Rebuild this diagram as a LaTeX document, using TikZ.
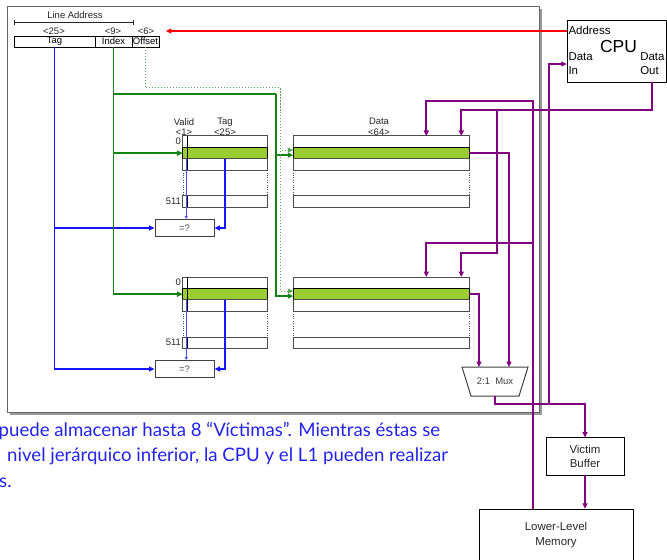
\documentclass[tikz,border=0pt]{standalone}
\usepackage{fontspec}
\setmainfont{Liberation Sans}
\newfontfamily\notefont{Lato}
\usetikzlibrary{arrows.meta,shadows}

\definecolor{wiregreen}{RGB}{20,130,20}
\definecolor{hitgreen}{RGB}{154,205,50}
\definecolor{wireblue}{RGB}{20,20,255}
\definecolor{wirepurple}{RGB}{128,0,128}
\definecolor{noteblue}{RGB}{35,35,235}

\begin{document}
\begin{tikzpicture}[x=1bp, y=-1bp, >={Triangle[length=5.5bp,width=5bp]},
    lbl/.style={font=\fontsize{9.5}{10.5}\selectfont, text=black!85, inner sep=1.5bp},
    field/.style={draw, minimum height=11bp, inner sep=0.5bp, outer sep=0pt,
      font=\fontsize{9.5}{10.5}\selectfont},
    row/.style={draw=black!70, line width=1bp, minimum height=11.4bp,
      inner sep=0pt, outer sep=0pt, anchor=north west},
    hit/.style={fill=hitgreen, draw=black},
    cmp/.style={draw=black!75, line width=1bp, minimum width=59bp, minimum height=17bp,
      inner sep=0pt, font=\fontsize{9.5}{10.5}\selectfont, text=black!70},
    cputext/.style={font=\fontsize{11.5}{14}\selectfont, inner sep=1.5bp},
    box/.style={draw, inner sep=2bp, font=\fontsize{11.5}{14.3}\selectfont, text=black!85},
    mux/.style={minimum width=66bp, minimum height=29bp, inner sep=0pt, outer sep=0pt,
      font=\fontsize{9.5}{10.5}\selectfont, text=black!75},
    greenwire/.style={draw=wiregreen, line width=1.8bp, ->},
    offwire/.style={draw=wiregreen!70, line width=1bp, dotted, ->},
    bluewire/.style={draw=wireblue, line width=1.8bp, ->},
    validwire/.style={draw=wireblue!75, line width=1bp, -{Triangle[length=3bp,width=3bp]}},
    purplewire/.style={draw=wirepurple, line width=2bp, ->},
    redwire/.style={draw=red, line width=1.8bp, ->},
    note/.style={font=\notefont\fontsize{18.7}{22}\selectfont, text=noteblue, inner sep=0pt}]
    \useasboundingbox (0,0) rectangle (667,560);
    \clip (0,0) rectangle (667,560);

    \path[draw=black!60, line width=1bp, fill=white, drop shadow={shadow xshift=2.5bp, shadow yshift=-2.5bp, fill=black!50, opacity=0.8}]
      (7.5,6.5) rectangle (539,412);

    % line address
    \node[lbl] at (75,15.5) {Line Address};
    \draw[{Bar[width=5bp]}-{Bar[width=5bp]}, black!85] (14,22.5) -- (133,22.5);
    \node[lbl] (w25) at (54,31) {<25>};
    \node[lbl] (w9) at (113,31) {<9>};
    \node[lbl] (w6) at (146,31) {<6>};
    \node[field, minimum width=81bp] (tagf) at (54.5,41.5) {Tag};
    \node[field, minimum width=37bp] (idxf) at (113.5,41.5) {Index};
    \node[field, minimum width=27bp] (offf) at (145.5,41.5) {Offset};

    \node[lbl, align=center] at (184,127) {Valid\\<1>};
    \node[lbl, align=center] at (225,127) {Tag\\<25>};
    \node[lbl, align=center] at (379,127) {Data\\<64>};

    \foreach \w/\top in {1/136,2/277} {
      \node[row, minimum width=84.6bp] (ttop\w) at (182.7,\top) {};
      \node[row, hit, minimum width=84.6bp] (tag\w) at (182.7,\top+11.4) {};
      \node[row, minimum width=84.6bp] (tmid\w) at (182.7,\top+22.8) {};
      \node[row, minimum width=84.6bp] (tend\w) at (182.7,\top+60) {};
      \draw (187.3,\top) -- (187.3,\top+34.2) (187.3,\top+60) -- (187.3,\top+71.4);
      \draw[dotted, black!70] (tmid\w.south west) -- (tend\w.north west)
        (tmid\w.south east) -- (tend\w.north east);
      \node[lbl, anchor=east] at (ttop\w.west) {0};
      \node[lbl, anchor=east] at (tend\w.west) {511};

      \node[row, minimum width=176bp] (dtop\w) at (293.3,\top) {};
      \node[row, hit, minimum width=176bp] (data\w) at (293.3,\top+11.4) {};
      \node[row, minimum width=176bp] (dmid\w) at (293.3,\top+22.8) {};
      \node[row, minimum width=176bp] (dend\w) at (293.3,\top+60) {};
      \draw[dotted, black!70] (dmid\w.south west) -- (dend\w.north west)
        (dmid\w.south east) -- (dend\w.north east);

      \node[cmp] (cmp\w) at (184.5,\top+92) {=?};
    }

    % cpu and memory side
    \node[draw, minimum width=99bp, minimum height=62bp, inner sep=0pt] (cpu) at (616.5,51) {};
    \node[cputext, anchor=west] (addr) at ([yshift=-10.5bp]cpu.north west) {Address};
    \node[font=\fontsize{17.5}{18}\selectfont, inner sep=0pt] at ([xshift=2bp, yshift=4bp]cpu.center) {CPU};
    \node[cputext, anchor=west, align=left] (din) at ([yshift=-13bp]cpu.west) {Data\\In};
    \node[cputext, anchor=east, align=left] (dout) at ([yshift=-13bp]cpu.east) {Data\\Out};

    \node[box, minimum width=78.6bp, minimum height=37.3bp, align=center] (victim) at (585,456.3) {Victim\\Buffer};
    \node[box, minimum width=153.7bp, minimum height=52bp, align=center] (mem) at (556,535) {Lower-Level\\Memory};
    \node[mux] (mux) at (495,381.5) {2:1\ \ Mux};
    \draw[black!75, line width=1bp] (mux.north west) -- (mux.north east) -- ([xshift=-9bp]mux.south east)
      -- ([xshift=9bp]mux.south west) -- cycle;

    % address bits
    \draw[redwire] (cpu.west |- w6) -- ([xshift=10bp]w6.east);
    \draw[bluewire] (tagf.south) |- (cmp1.west);
    \draw[bluewire] (tagf.south) |- (cmp2.west);
    \draw[greenwire] (idxf.south) |- (tag1.west);
    \draw[greenwire] (idxf.south) |- (tag2.west);
    \coordinate (ibr) at (276,94);
    \draw[greenwire, -] (idxf.south |- ibr) -- (ibr);
    \draw[greenwire] (ibr) |- ([yshift=-2bp]data1.west);
    \draw[greenwire] (ibr) |- ([yshift=-2bp]data2.west);
    \coordinate (obr) at (280.5,88);
    \draw[offwire] (offf.south) |- (obr) |- ([yshift=3bp]data1.west);
    \draw[offwire] (obr) |- ([yshift=3bp]data2.west);

    \foreach \w in {1,2} {
      \draw[bluewire] (tag\w.south) |- (cmp\w.east);
      \draw[validwire] ([xshift=3.5bp]tag\w.south west) -- ([xshift=3.5bp]tag\w.south west |- cmp\w.north);
    }

    % data paths
    \coordinate (outbr) at (497,110);
    \coordinate (outbr2) at (497,253);
    \coordinate (filltop) at (533,100.7);
    \coordinate (fillbr) at (533,243);
    \coordinate (muxbr) at (549,404);
    \draw[purplewire] (dout.center |- cpu.south) |- (outbr) -| ([xshift=-8bp]dtop1.north east);
    \draw[purplewire] (outbr) -- (outbr2) -| ([xshift=-8bp]dtop2.north east);
    \draw[purplewire] (filltop |- mem.north) -- (filltop) -| ([xshift=-43bp]dtop1.north east);
    \draw[purplewire] (fillbr) -| ([xshift=-43bp]dtop2.north east);
    \draw[purplewire] (data1.east) -| ([xshift=14bp]mux.north);
    \draw[purplewire] (data2.east) -| ([xshift=-16bp]mux.north);
    \draw[purplewire] ([yshift=0.4bp]mux.south) |- (muxbr) -| (victim.north);
    \draw[purplewire] (muxbr) |- (din.west);
    \draw[purplewire] (victim.south) -- (victim.south |- mem.north);

    \node[note, anchor=base west] at (-1.5,436) {puede almacenar hasta 8 “Víctimas”. Mientras éstas se};
    \node[note, anchor=base west] at (7,461.7) {nivel jerárquico inferior, la CPU y el L1 pueden realizar};
    \node[note, anchor=base west] at (-1,487) {s.};
\end{tikzpicture}
\end{document}
